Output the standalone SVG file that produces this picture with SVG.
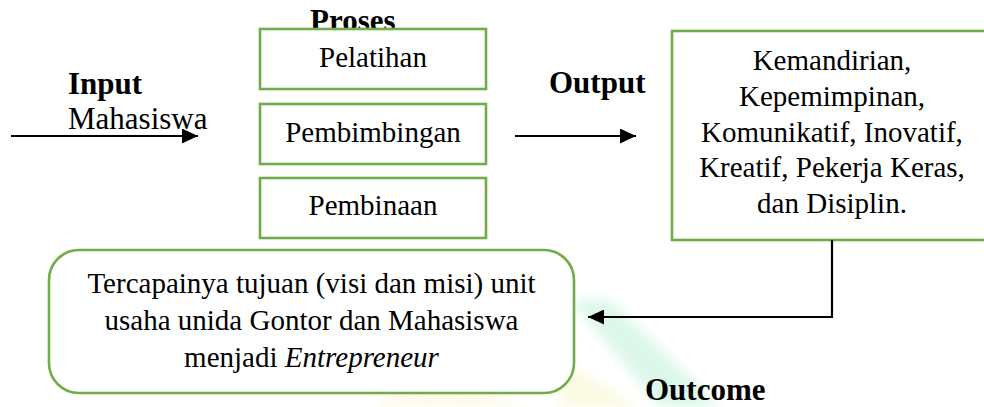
<svg xmlns="http://www.w3.org/2000/svg" width="984" height="407" viewBox="0 0 984 407" font-family="'Liberation Serif', serif">
  <style>
    .box { fill: #ffffff; stroke: #70ad47; stroke-width: 2.6; }
    .txt { font-size: 29px; fill: #000000; text-anchor: middle; }
    .lbl { font-size: 31px; font-weight: bold; fill: #000000; }
    .plain { font-size: 31px; fill: #000000; }
    .conn { fill: none; stroke: #000000; stroke-width: 2.2; }
  </style>
  <defs>
    <marker id="arrow" markerUnits="userSpaceOnUse" markerWidth="16" markerHeight="15" refX="16" refY="7.5" orient="auto">
      <path d="M0,0 L16,7.5 L0,15 Z" fill="#000000"/>
    </marker>
    <filter id="soft" x="-20%" y="-20%" width="140%" height="140%">
      <feGaussianBlur stdDeviation="6"/>
    </filter>
  </defs>

  <rect width="984" height="407" fill="#ffffff"/>

  <!-- faint background emblem -->
  <g id="watermark" filter="url(#soft)" opacity="0.3">
    <polygon points="570,300 610,300 720,407 660,407" fill="#8ee6b8"/>
    <polygon points="560,360 640,407 560,407" fill="#f2f0a0"/>
    <polygon points="380,395 480,385 520,407 380,407" fill="#f4f2b0"/>
  </g>

  <!-- section labels -->
  <g id="labels">
    <text class="lbl" x="310" y="31" font-family="'Liberation Serif', serif">Proses</text>
    <text class="lbl" x="68" y="94" font-family="'Liberation Serif', serif">Input</text>
    <text class="plain" x="68" y="129" font-family="'Liberation Serif', serif">Mahasiswa</text>
    <text class="lbl" x="549" y="93" font-family="'Liberation Serif', serif">Output</text>
    <text class="lbl" x="645" y="400" font-family="'Liberation Serif', serif">Outcome</text>
  </g>

  <g id="node-pelatihan" font-family="'Liberation Serif', serif">
    <rect class="box" x="260" y="29" width="226" height="60"/>
    <text class="txt" x="373" y="67">Pelatihan</text>
  </g>
  <g id="node-pembimbingan" font-family="'Liberation Serif', serif">
    <rect class="box" x="260" y="104" width="226" height="60"/>
    <text class="txt" x="373" y="142">Pembimbingan</text>
  </g>
  <g id="node-pembinaan" font-family="'Liberation Serif', serif">
    <rect class="box" x="260" y="178" width="226" height="60"/>
    <text class="txt" x="373" y="215">Pembinaan</text>
  </g>

  <g id="node-output" font-family="'Liberation Serif', serif">
    <rect class="box" x="672" y="31" width="316" height="209"/>
    <text class="txt" x="832" y="70">Kemandirian,</text>
    <text class="txt" x="832" y="106">Kepemimpinan,</text>
    <text class="txt" x="832" y="141.5">Komunikatif, Inovatif,</text>
    <text class="txt" x="832" y="177">Kreatif, Pekerja Keras,</text>
    <text class="txt" x="832" y="212.5">dan Disiplin.</text>
  </g>

  <g id="node-outcome" font-family="'Liberation Serif', serif">
    <rect class="box" x="49" y="250" width="525" height="143" rx="30" ry="30"/>
    <text class="txt" x="311.5" y="293">Tercapainya tujuan (visi dan misi) unit</text>
    <text class="txt" x="311.5" y="330">usaha unida Gontor dan Mahasiswa</text>
    <text class="txt" x="311.5" y="367">menjadi <tspan font-style="italic">Entrepreneur</tspan></text>
  </g>

  <g id="connectors">
    <line class="conn" x1="11" y1="136" x2="198" y2="136" marker-end="url(#arrow)"/>
    <line class="conn" x1="515" y1="136" x2="636" y2="136" marker-end="url(#arrow)"/>
    <path class="conn" d="M832,240 V317 H588" stroke-width="2" marker-end="url(#arrow)"/>
  </g>
</svg>
